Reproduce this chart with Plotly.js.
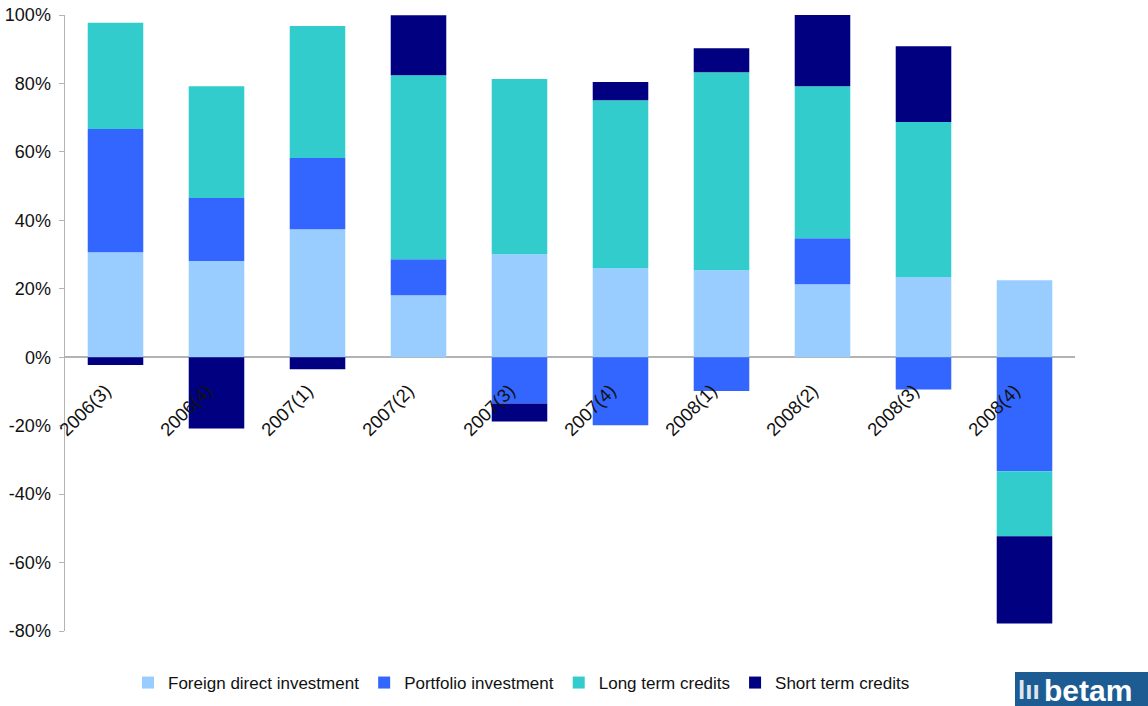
<!DOCTYPE html>
<html>
<head>
<meta charset="utf-8">
<script src="https://cdn.plot.ly/plotly-3.0.1.min.js"></script>
<style>html,body{margin:0;padding:0;background:#fff;}#chart{width:1148px;height:706px;}</style>
</head>
<body>
<div id="chart"></div>
<script>
const categories = ["2006(3)","2006(4)","2007(1)","2007(2)","2007(3)","2007(4)","2008(1)","2008(2)","2008(3)","2008(4)"];
const fdi       = [30.7, 28.1, 37.4, 18.1, 30.1, 26.0, 25.4, 21.3, 23.4, 22.5];
const portfolio = [36.0, 18.4, 20.8, 10.5, -13.5, -19.9, -9.9, 13.5, -9.4, -33.3];
const longTerm  = [31.0, 32.7, 38.6, 53.8, 51.2, 49.1, 57.9, 44.4, 45.3, -19.0];
const shortTerm = [-2.3, -20.8, -3.5, 17.5, -5.3, 5.3, 7.0, 20.8, 22.2, -25.5];
const seriesNames = ["Foreign direct investment","Portfolio investment","Long term credits","Short term credits"];
const colors = ["#99ccff","#3366ff","#33cccc","#000080"];
const yTicks = [-80,-60,-40,-20,0,20,40,60,80,100];

const data = [fdi, portfolio, longTerm, shortTerm].map((vals, i) => ({
  type: 'bar', x: categories, y: vals, name: seriesNames[i],
  marker: {color: colors[i], line: {width: 0}},
  hoverinfo: 'x+y+name'
}));

const labelAnnotations = categories.map(c => ({
  x: c, y: 0, xref: 'x', yref: 'y', text: c, showarrow: false,
  textangle: -45, xanchor: 'center', yanchor: 'middle',
  xshift: -31, yshift: -53,
  font: {family: 'Liberation Sans, Arial, sans-serif', size: 18.5, color: '#111'}
}));

const layout = {
  width: 1148, height: 706,
  margin: {l: 65, r: 73, t: 15, b: 75, pad: 0, autoexpand: false},
  paper_bgcolor: '#fff', plot_bgcolor: '#fff',
  barmode: 'relative', bargap: 0.45,
  font: {family: 'Liberation Sans, Arial, sans-serif', color: '#111'},
  xaxis: {type: 'category', range: [-0.5, categories.length - 0.5], autorange: false,
          showticklabels: false, ticks: '', showgrid: false, showline: false, zeroline: false, fixedrange: true},
  yaxis: {range: [-80, 100], autorange: false, tickvals: yTicks, ticktext: yTicks.map(v => v + '%'),
          showgrid: false, zeroline: true, zerolinecolor: '#b3b3b3', zerolinewidth: 1.5,
          showline: true, linecolor: '#b3b3b3', linewidth: 1.5,
          ticks: 'outside', ticklen: 5, tickcolor: '#b3b3b3', tickwidth: 1, ticklabelstandoff: 4,
          tickfont: {size: 18, color: '#111'}},
  showlegend: true,
  legend: {orientation: 'h', xref: 'paper', x: 0.452, xanchor: 'center', yref: 'container', y: (706-683)/706, yanchor: 'middle',
           font: {size: 17, color: '#111'}, itemwidth: 30, tracegroupgap: 0, traceorder: 'normal'},
  shapes: [{type: 'rect', xref: 'paper', yref: 'paper', x0: (1015-65)/1010, x1: (1148-65)/1010,
            y0: (631-706)/616, y1: (631-672)/616, fillcolor: '#1d5c92', line: {width: 0}}],
  annotations: labelAnnotations.concat([{
    xref: 'paper', yref: 'paper', x: (1088-65)/1010, y: (631-690)/616, text: '<b>betam</b>', showarrow: false,
    xanchor: 'center', yanchor: 'middle', borderpad: 0, font: {size: 30, color: '#fff', family: 'Liberation Sans, Arial, sans-serif'}
  }, {
    xref: 'paper', yref: 'paper', x: (1029-65)/1010, y: (631-690)/616, text: '<b>lıı</b>', showarrow: false,
    xanchor: 'center', yanchor: 'middle', font: {size: 26, color: '#dde6f0', family: 'Liberation Sans, Arial, sans-serif'}
  }])
};

Plotly.newPlot('chart', data, layout, {displayModeBar: false, staticPlot: true});
</script>
</body>
</html>
